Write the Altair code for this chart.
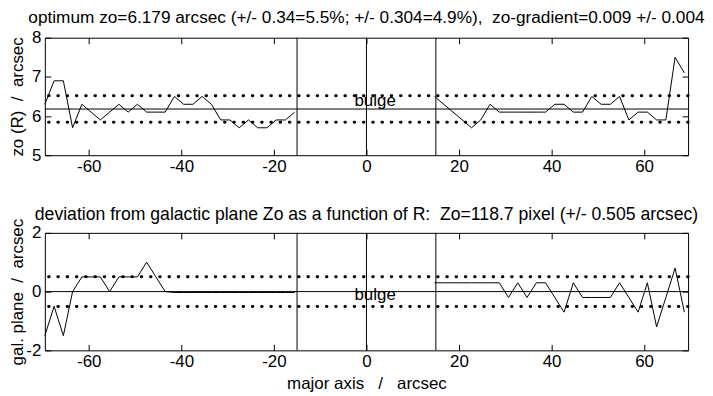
import altair as alt
import pandas as pd

# ---------------- data ----------------
x_left = [-69.5, -67.5, -65.5, -63.5, -61.5, -59.5, -57.5, -55.5, -53.5, -51.5,
          -49.5, -47.5, -45.5, -43.5, -41.5, -39.5, -37.5, -35.5, -33.5, -31.5,
          -29.5, -27.5, -25.5, -23.5, -21.5, -19.5, -17.5, -15.5]
x_right = [14.7, 16.7, 18.7, 20.7, 22.7, 24.7, 26.7, 28.7, 30.7, 32.7,
           34.7, 36.7, 38.7, 40.7, 42.7, 44.7, 46.7, 48.7, 50.7, 52.7,
           54.7, 56.7, 58.7, 60.7, 62.7, 64.7, 66.7, 68.7]

zo_left = [6.3, 6.9, 6.9, 5.7, 6.3, 6.1, 5.9, 6.1, 6.3, 6.1,
           6.3, 6.1, 6.1, 6.1, 6.5, 6.3, 6.3, 6.5, 6.3, 5.9,
           5.9, 5.7, 5.9, 5.7, 5.7, 5.9, 5.9, 6.1]
zo_right = [6.5, 6.3, 6.1, 5.9, 5.7, 5.9, 6.3, 6.1, 6.1, 6.1,
            6.1, 6.1, 6.1, 6.3, 6.3, 6.1, 6.1, 6.5, 6.3, 6.3,
            6.5, 5.9, 6.1, 6.1, 5.9, 5.9, 7.5, 7.1]

dev_left = [-1.5, -0.5, -1.5, 0.0, 0.5, 0.5, 0.5, 0.0, 0.5, 0.5,
            0.5, 1.0, 0.5, 0.0, -0.03, -0.03, -0.03, -0.03, -0.03, -0.03,
            -0.03, -0.03, -0.03, -0.03, -0.03, -0.03, -0.03, -0.03]
dev_right = [0.3, 0.3, 0.3, 0.3, 0.3, 0.3, 0.3, 0.3, -0.2, 0.3,
             -0.2, 0.3, 0.3, -0.2, -0.7, 0.3, -0.2, -0.2, -0.2, -0.2,
             0.3, -0.2, -0.7, 0.3, -1.2, -0.2, 0.8, -0.7]

zo_opt = 6.179
zo_err = 0.34
dev_err = 0.505
bulge_edges = [-15, 0, 15]
x_ticks = [-60, -40, -20, 0, 20, 40, 60]
zo_ticks = [5, 6, 7, 8]
dev_ticks = [-2, 0, 2]

NB = "\u00a0"
title_top = "optimum zo=6.179 arcsec (+/- 0.34=5.5%; +/- 0.304=4.9%)," + NB + " zo-gradient=0.009 +/- 0.004"
title_bot = "deviation from galactic plane Zo as a function of R:" + NB + " Zo=118.7 pixel (+/- 0.505 arcsec)"
ytitle_top = "zo (R)" + NB + " / " + NB + "arcsec"
ytitle_bot = "gal. plane" + NB + " / " + NB + "arcsec"
xtitle_bot = "major axis" + NB + NB + " / " + NB + NB + "arcsec"

FONT = "Liberation Sans"
FS = 17
W, H = 646, 118
XDOM = [-69.5, 69.5]
HYPHEN_LABEL = "datum.value < 0 ? '-' + abs(datum.value) : '' + datum.value"


def make_df(xl, yl, xr, yr):
    return pd.DataFrame({
        "x": list(xl) + list(xr),
        "y": list(yl) + list(yr),
        "seg": ["left"] * len(xl) + ["right"] * len(xr),
    })


def panel(df, ydom, yticks, ytitle, title, title_fs, title_off, zline, err, text_y, xtitle):
    xs = alt.Scale(domain=XDOM, nice=False, zero=False)
    ys = alt.Scale(domain=ydom, nice=False, zero=False)
    inward = dict(labels=False, domain=False, grid=False, ticks=True,
                  tickSize=6, offset=-6, title=None, tickColor="black")

    xaxis_kw = dict(orient="bottom", values=x_ticks, ticks=False, domain=False, grid=False,
                    labelPadding=3, labelFlush=False, labelFont=FONT, labelFontSize=FS,
                    labelColor="black", labelExpr=HYPHEN_LABEL)
    if xtitle:
        xaxis_kw.update(title=xtitle, titlePadding=6, titleFont=FONT, titleFontSize=FS,
                        titleFontWeight="normal", titleColor="black")
    else:
        xaxis_kw.update(title=None)

    line = alt.Chart(df).mark_line(color="black", strokeWidth=1).encode(
        x=alt.X("x:Q", scale=xs, axis=alt.Axis(**xaxis_kw)),
        y=alt.Y("y:Q", scale=ys, axis=alt.Axis(
            orient="left", values=yticks, ticks=False, domain=False, grid=False,
            labelPadding=4, labelFont=FONT, labelFontSize=FS, labelColor="black",
            labelExpr=HYPHEN_LABEL,
            title=ytitle, titleX=-27, titleY=H / 2, titleFont=FONT, titleFontSize=FS,
            titleFontWeight="normal", titleColor="black",
            titleBaseline="middle", titleAngle=270)),
        detail="seg:N",
    )

    vdf = pd.DataFrame({"x": bulge_edges})
    vrule = alt.Chart(vdf).mark_rule(color="black", strokeWidth=1).encode(
        x=alt.X("x:Q", scale=xs, axis=alt.Axis(orient="bottom", values=x_ticks, **inward)),
    )

    hdf = pd.DataFrame({"y": [zline]})
    hrule = alt.Chart(hdf).mark_rule(color="black", strokeWidth=1).encode(
        y=alt.Y("y:Q", scale=ys, axis=alt.Axis(orient="left", values=yticks, **inward)),
    )

    ghost = alt.Chart(df).mark_point(opacity=0).encode(
        x=alt.X("x:Q", scale=xs, axis=alt.Axis(orient="top", values=x_ticks, **inward)),
        y=alt.Y("y:Q", scale=ys, axis=alt.Axis(orient="right", values=yticks, **inward)),
    )

    ddf = pd.DataFrame({"y": [zline - err, zline + err]})
    dots = alt.Chart(ddf).mark_rule(
        color="black", strokeWidth=3, strokeCap="round", strokeDash=[0.5, 8.8]
    ).encode(y=alt.Y("y:Q", scale=ys, axis=None))

    tdf = pd.DataFrame({"x": [-2.6], "y": [text_y], "t": ["bulge"]})
    text = alt.Chart(tdf).mark_text(
        font=FONT, fontSize=FS, align="left", baseline="alphabetic", color="black"
    ).encode(
        x=alt.X("x:Q", scale=xs, axis=None),
        y=alt.Y("y:Q", scale=ys, axis=None),
        text="t:N",
    )

    return alt.layer(dots, vrule, hrule, line, ghost, text).resolve_axis(
        x="independent", y="independent"
    ).properties(
        width=W, height=H,
        title=alt.TitleParams(text=title, font=FONT, fontSize=title_fs, fontWeight="normal",
                              color="black", anchor="middle", offset=title_off),
    )


top = panel(make_df(x_left, zo_left, x_right, zo_right), [5, 8], zo_ticks,
            ytitle_top, title_top, 17.3, 2, zo_opt, zo_err, 6.26, None)
bot = panel(make_df(x_left, dev_left, x_right, dev_right), [-2, 2], dev_ticks,
            ytitle_bot, title_bot, 17.7, -5, 0.0, dev_err, -0.3, xtitle_bot)

chart = alt.vconcat(top, bot, spacing=30).properties(
    padding={"left": 0, "top": 0, "right": 0, "bottom": 0},
    background="white",
).configure_view(
    stroke="black", strokeWidth=1
)

chart.save("out.html", embed_options={"renderer": "svg", "actions": False})
